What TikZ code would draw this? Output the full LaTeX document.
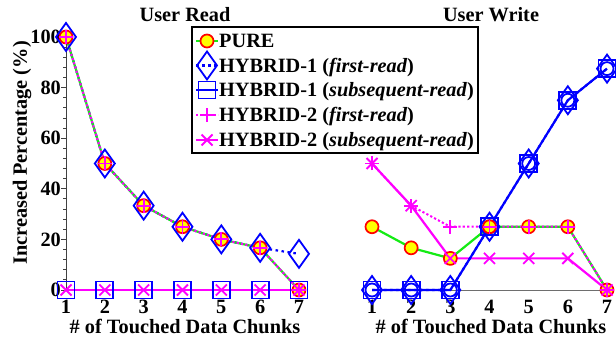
\documentclass[tikz,border=0pt]{standalone}
\usepackage{fontspec}
\setmainfont{Liberation Serif}
\definecolor{puregreen}{RGB}{20,235,20}
\definecolor{hmag}{RGB}{255,0,255}
\definecolor{hblue}{RGB}{0,0,255}
\definecolor{dotyellow}{RGB}{255,255,0}
\definecolor{dotred}{RGB}{255,0,0}
\definecolor{axisgray}{RGB}{110,110,110}

\tikzset{
  lbl/.style={font=\fontsize{20.3}{24}\selectfont\bfseries, inner sep=0pt},
  pureline/.style={puregreen, line width=2.2pt, line join=round},
  hafline/.style={hblue, line width=2.2pt, dash pattern=on 2.5pt off 3.5pt},
  hasline/.style={hblue, line width=2.2pt, line join=round},
  hbfline/.style={hmag, line width=2pt, dash pattern=on 2.2pt off 2.2pt},
  hbsline/.style={hmag, line width=2.2pt, line join=round},
  puremk/.style={draw=dotred, fill=dotyellow, line width=1.7pt},
  bluemk/.style={draw=hblue, line width=1.8pt},
  magmk/.style={draw=hmag, line width=1.8pt},
  axisline/.style={black!75, line width=0.9pt},
}
% plot markers, centred on a data point
\newcommand\mkpure[2]{\path[puremk] (#1,#2) circle[radius=6.5pt];}
\newcommand\mkdiam[2]{\path[bluemk] (#1,#2) +(0pt,14pt) -- +(10pt,0pt) -- +(0pt,-14pt) -- +(-10pt,0pt) -- cycle;}
\newcommand\mksq[2]{\path[bluemk] (#1,#2) +(-8.5pt,-8.5pt) rectangle +(8.5pt,8.5pt);}
\newcommand\mkring[2]{\path[bluemk] (#1,#2) circle[radius=6.5pt];}
\newcommand\mkplus[2]{\path[magmk] (#1,#2) +(-7pt,0pt) -- +(7pt,0pt) +(0pt,-7pt) -- +(0pt,7pt);}
\newcommand\mkcross[2]{\path[magmk] (#1,#2) +(-5.5pt,-5.5pt) -- +(5.5pt,5.5pt) +(-5.5pt,5.5pt) -- +(5.5pt,-5.5pt);}

\begin{document}
\begin{tikzpicture}[x=1pt,y=-1pt]
\useasboundingbox (0,0) rectangle (616,339);
\fill[white] (0,0) rectangle (616,339);

% ---------------- User Read panel ----------------
\begin{scope}[shift={(66pt,-290pt)}, x=38.83pt, y=2.53pt]
  \draw[axisgray, line width=1pt] (0,0) -- (6,0);
  \draw[axisline] (0,0) -- (0,100);
  \foreach \v in {0,4,...,100} \draw[axisline] (0,\v) -- ++(-3pt,0);
  \foreach \v in {0,20,...,100} {
    \draw[axisline] (0,\v) -- ++(-5pt,0);
    \node[lbl, anchor=east, xshift=-5pt] (lyt\v) at (0,\v) {\v};
  }
  \foreach \i in {1,...,7}
    \node[lbl, anchor=base, yshift=-23pt] (lxt\i) at (\i-1,0) {\i};

  \draw[hasline] (0,0) -- (6,0);
  \draw[hafline] (0,100) -- (1,50) -- (2,33.33) -- (3,25) -- (4,20) -- (5,16.67) -- (6,14.29);
  \draw[pureline] (0,100) -- (1,50) -- (2,33.33) -- (3,25) -- (4,20) -- (5,16.67) -- (6,0);
  \draw[hbfline] (0,100) -- (1,50) -- (2,33.33) -- (3,25) -- (4,20) -- (5,16.67) -- (6,0);
  \draw[hbsline] (0,0) -- (6,0);

  \foreach \x/\y in {0/100,1/50,2/33.33,3/25,4/20,5/16.67,6/0} \mkpure{\x}{\y};
  \foreach \x/\y in {0/100,1/50,2/33.33,3/25,4/20,5/16.67,6/14.29} \mkdiam{\x}{\y};
  \foreach \x in {0,...,6} \mksq{\x}{0};
  \foreach \x/\y in {0/100,1/50,2/33.33,3/25,4/20,5/16.67,6/0} \mkplus{\x}{\y};
  \foreach \x in {0,...,6} \mkcross{\x}{0};
\end{scope}

% ---------------- User Write panel ----------------
\begin{scope}[shift={(372pt,-290pt)}, x=39.17pt, y=2.53pt]
  \draw[axisgray, line width=1pt] (0,0) -- (6,0);
  \foreach \i in {1,...,7}
    \node[lbl, anchor=base, yshift=-23pt] (rxt\i) at (\i-1,0) {\i};

  \draw[pureline] (0,25) -- (1,16.67) -- (2,12.5) -- (3,25) -- (4,25) -- (5,25) -- (6,0);
  \draw[hbfline] (0,50) -- (1,33.33) -- (2,25) -- (3,25) -- (4,25) -- (5,25) -- (6,0);
  \draw[hbsline] (0,50) -- (1,33.33) -- (2,12.5) -- (3,12.5) -- (4,12.5) -- (5,12.5) -- (6,0);
  \draw[hafline] (0,0) -- (1,0) -- (2,0) -- (3,25) -- (4,50) -- (5,75) -- (6,87.5);
  \draw[hasline] (0,0) -- (1,0) -- (2,0) -- (3,25) -- (4,50) -- (5,75) -- (6,87.5);

  \foreach \x/\y in {0/0,1/0,2/0,3/25,4/50,5/75,6/87.5} {\mkdiam{\x}{\y} \mksq{\x}{\y} \mkring{\x}{\y}}
  \foreach \x/\y in {0/25,1/16.67,2/12.5,3/25,4/25,5/25,6/0} \mkpure{\x}{\y};
  \foreach \x/\y in {0/50,1/33.33,2/25,3/25,4/25,5/25,6/0} \mkplus{\x}{\y};
  \foreach \x/\y in {0/50,1/33.33,2/12.5,3/12.5,4/12.5,5/12.5,6/0} \mkcross{\x}{\y};
\end{scope}

% ---------------- titles and axis labels ----------------
\node[lbl, anchor=base] (titleL) at (185,22) {User Read};
\node[lbl, anchor=base] (titleR) at (491,22) {User Write};
\node[lbl, anchor=base] (xlabL) at (185,333) {\# of Touched Data Chunks};
\node[lbl, anchor=base] (xlabR) at (491,333) {\# of Touched Data Chunks};
\node[lbl, anchor=base, rotate=90] (ylab) at (27,153) {Increased Percentage (\%)};

% ---------------- legend ----------------
\draw[black, line width=1.3pt, fill=white] (192,27) rectangle (478,153);
\draw[pureline] (196,41) -- (218,41); \mkpure{207}{41}
\draw[hafline] (196,65.5) -- (218,65.5); \mkdiam{207}{65.5}
\draw[hasline] (196,90) -- (218,90); \mksq{207}{90}
\draw[hbfline] (196,115) -- (218,115); \mkplus{207}{115}
\draw[hbsline] (196,140) -- (218,140); \mkcross{207}{140}
\node[lbl, anchor=base west] (leg1) at (219,48) {PURE};
\node[lbl, anchor=base west] (leg2) at (219,72.5) {HYBRID-1 (\textit{first-read})};
\node[lbl, anchor=base west] (leg3) at (219,97) {HYBRID-1 (\textit{subsequent-read})};
\node[lbl, anchor=base west] (leg4) at (219,122) {HYBRID-2 (\textit{first-read})};
\node[lbl, anchor=base west] (leg5) at (219,147) {HYBRID-2 (\textit{subsequent-read})};
\end{tikzpicture}
\end{document}
